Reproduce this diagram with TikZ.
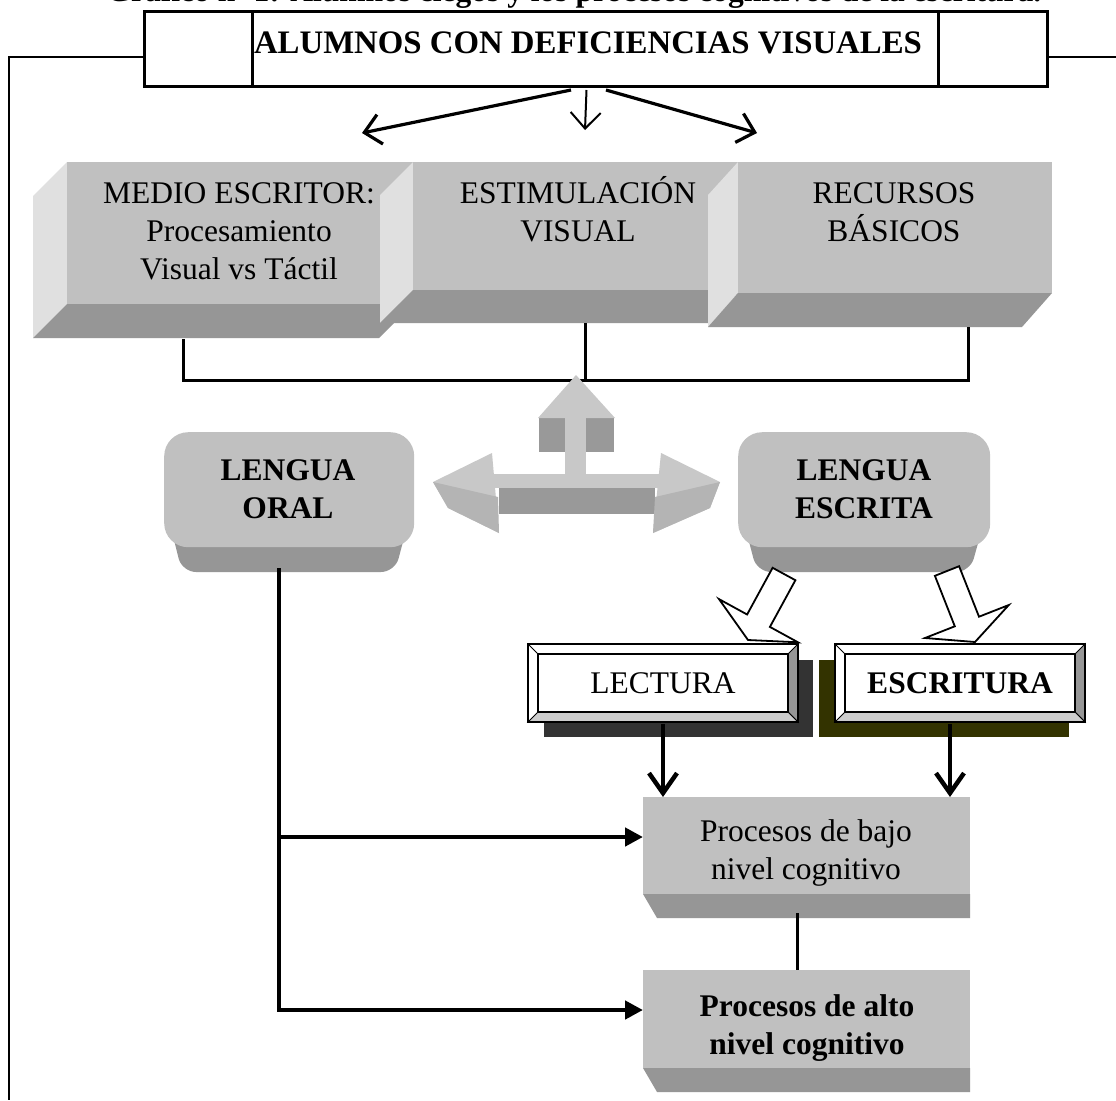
\documentclass[tikz,border=0pt]{standalone}
\usepackage{fontspec}
\setmainfont{Liberation Serif}
\usetikzlibrary{arrows.meta,calc}
\definecolor{facegray}{HTML}{C0C0C0}
\definecolor{sidegray}{HTML}{969696}
\definecolor{panellight}{HTML}{E0E0E0}
\definecolor{bandgray}{HTML}{CCCCCC}
\definecolor{shadowdark}{HTML}{333333}
\definecolor{shadowolive}{HTML}{333300}
\definecolor{arrlight}{HTML}{C8C8C8}
\definecolor{arrmid}{HTML}{B4B4B4}
\definecolor{arrdark}{HTML}{999999}
\begin{document}
\begin{tikzpicture}[x=1pt,y=-1pt,
  lbl/.style={font=\fontsize{31.5}{38}\selectfont, inner sep=0pt, anchor=base},
  blbl/.style={font=\fontsize{31.5}{38}\selectfont\bfseries, inner sep=0pt, anchor=base},
  thinln/.style={line width=1.6pt},
  midln/.style={line width=3pt},
  thickln/.style={line width=4.5pt},
  openhead/.style={-{Straight Barb[length=20pt,width=28pt]}},
  smallhead/.style={-{Straight Barb[length=16pt,width=30pt]}},
  filledhead/.style={-{Triangle[length=18pt,width=18pt]}},
  facebox/.style={fill=facegray, draw=none, inner sep=0pt, anchor=north west},
  blockarrow/.style={draw=black, fill=white, line width=1.8pt, line join=miter},
]
\useasboundingbox (0,0) rectangle (1116,1100);
\fill[white] (0,0) rectangle (1116,1100);

% clipped caption at the very top
\begin{scope}
\clip (0,0) rectangle (1116,12);
\node[blbl] (titulo) at (574,1.5) {Gráfico nº 1: Alumnos ciegos y los procesos cognitivos de la escritura.};
\end{scope}

% title box
\node[draw, line width=3pt, minimum width=903pt, minimum height=75pt, inner sep=0pt, anchor=north west] (alumnos) at (143,10) {};
\draw[midln] (252,10) -- (252,85);
\draw[midln] (938,10) -- (938,85);
\draw[line width=2.5pt] (143,87) -- (1046,87);
\node[blbl, font=\fontsize{32.8}{38}\selectfont\bfseries] (alumnostxt) at (588,53) {ALUMNOS CON DEFICIENCIAS VISUALES};

% outer frame lines
\coordinate (frameTL) at (9,57);
\coordinate (frameBL) at (9,1100);
\coordinate (frameR) at (1116,57);
\draw[thinln] (alumnos.west |- frameTL) -- (frameTL) -- (frameBL);
\draw[thinln] (alumnos.east |- frameR) -- (frameR);

% arrows from title box
\coordinate (tipL) at (362,133);
\coordinate (tipC) at (585,130);
\coordinate (tipR) at (757,133);
\draw[line width=3.2pt, smallhead] ($(alumnos.south)+(-25,2)$) -- (tipL);
\draw[line width=3.2pt, smallhead] ($(alumnos.south)+(10,2)$) -- (tipR);
\draw[line width=2pt, smallhead] ($(alumnos.south)+(-9.5,2)$) -- (tipC);

% ---- three bevelled boxes ----
% box 1
\fill[panellight] (67,162) -- (33,196) -- (33,338) -- (67,304) -- cycle;
\fill[sidegray] (67,304) -- (413,304) -- (379,338) -- (33,338) -- cycle;
\node[facebox, minimum width=346pt, minimum height=142pt] (medio) at (67,162) {};
\node[lbl] (medio1) at (239,203.5) {MEDIO ESCRITOR:};
\node[lbl] (medio2) at (239,241) {Procesamiento};
\node[lbl] (medio3) at (239,279) {Visual vs Táctil};
% box 2
\fill[panellight] (413,162) -- (380,195) -- (380,323) -- (413,290) -- cycle;
\fill[sidegray] (413,290) -- (741,290) -- (708,323) -- (380,323) -- cycle;
\node[facebox, minimum width=328pt, minimum height=128pt] (estim) at (413,162) {};
\node[lbl] (estim1) at (578,203.5) {ESTIMULACIÓN};
\node[lbl] (estim2) at (578,241) {VISUAL};
% box 3
\fill[panellight] (738,162) -- (708,195) -- (708,327) -- (738,293) -- cycle;
\fill[sidegray] (738,293) -- (1052,293) -- (1022,327) -- (708,327) -- cycle;
\node[facebox, minimum width=314pt, minimum height=131pt] (recur) at (738,162) {};
\node[lbl] (recur1) at (894,203.5) {RECURSOS};
\node[lbl] (recur2) at (894,241) {BÁSICOS};

% bracket
\coordinate (medioB) at (183,339);
\coordinate (estimB) at (585,323);
\coordinate (recurB) at (968,327);
\coordinate (junc) at (585,380);
\draw[midln, line join=miter] (medioB) |- (junc) -| (recurB);
\draw[midln] (estimB) -- (junc);

% ---- 3D double arrow with up arrow ----
\fill[arrdark] (499,488) rectangle (655,514);
\fill[arrlight] (492,474) rectangle (663,488);
\fill[arrlight] (433,482) -- (492,453) -- (499,533) -- (448,508) -- cycle;
\fill[arrmid] (433,482) -- (498,497) -- (499,533) -- (448,508) -- cycle;
\fill[arrlight] (720,482) -- (661,453) -- (653,533) -- (710,508) -- cycle;
\fill[arrmid] (720,482) -- (655,497) -- (653,533) -- (710,508) -- cycle;
\fill[arrdark] (539,418) rectangle (565,452);
\fill[arrdark] (586,418) rectangle (614,452);
\fill[arrlight] (565,418) rectangle (586,474);
\fill[arrlight] (576,375) -- (538,418) -- (615,418) -- cycle;

% ---- lengua oral / escrita ----
\fill[sidegray, rounded corners=14pt] (164,500) -- (414,500) -- (395,572) -- (182,572) -- cycle;
\node[facebox, rounded corners=24pt, minimum width=250pt, minimum height=115pt] (oral) at (164,432) {};
\node[blbl] (oral1) at (288,480) {LENGUA};
\node[blbl] (oral2) at (288,518) {ORAL};

\fill[sidegray, rounded corners=14pt] (738,500) -- (990,500) -- (970,572) -- (757,572) -- cycle;
\node[facebox, rounded corners=24pt, minimum width=252pt, minimum height=115pt] (escrita) at (738,432) {};
\node[blbl] (escrita1) at (864,480) {LENGUA};
\node[blbl] (escrita2) at (864,518) {ESCRITA};

% white block arrows
\filldraw[blockarrow] (772.6,567.8) -- (795.4,580.2) -- (769.9,626.9) -- (798,642.3) -- (748,640) -- (719,599.1) -- (747.1,614.5) -- cycle;
\filldraw[blockarrow] (934.9,575.8) -- (959.1,566.2) -- (979,616.7) -- (1008.8,605) -- (975,642) -- (925,638) -- (954.8,626.3) -- cycle;

% ---- LECTURA ----
\fill[shadowdark] (544,660) rectangle (813,737);
\filldraw[fill=white, line width=1.8pt] (528,644) rectangle (798,722);
\filldraw[fill=sidegray, line width=1pt] (798,644) -- (788,654) -- (788,712) -- (798,722) -- cycle;
\filldraw[fill=bandgray, line width=1pt] (528,722) -- (538,712) -- (788,712) -- (798,722) -- cycle;
\draw[line width=1pt] (528,644) -- (538,654);
\draw[line width=1.8pt] (528,644) rectangle (798,722);
\node[draw, line width=2pt, fill=white, inner sep=0pt, minimum width=250pt, minimum height=58pt, font=\fontsize{31.5}{38}\selectfont] (lectura) at (663,683) {LECTURA};

% ---- ESCRITURA ----
\fill[shadowolive] (819,660) rectangle (1069,737);
\filldraw[fill=white, line width=1.8pt] (835,644) rectangle (1085,722);
\filldraw[fill=sidegray, line width=1pt] (1085,644) -- (1075,654) -- (1075,712) -- (1085,722) -- cycle;
\filldraw[fill=bandgray, line width=1pt] (835,722) -- (845,712) -- (1075,712) -- (1085,722) -- cycle;
\draw[line width=1pt] (835,644) -- (845,654);
\draw[line width=1.8pt] (835,644) rectangle (1085,722);
\node[draw, line width=2pt, fill=white, inner sep=0pt, minimum width=230pt, minimum height=58pt, font=\fontsize{31.5}{38}\selectfont\bfseries] (escritura) at (960,683) {ESCRITURA};

% ---- procesos boxes ----
\fill[sidegray] (643,894) -- (970,894) -- (970,918) -- (657,918) -- cycle;
\node[facebox, minimum width=327pt, minimum height=97pt] (bajo) at (643,797) {};
\node[lbl] (bajo1) at (806,841) {Procesos de bajo};
\node[lbl] (bajo2) at (806,879) {nivel cognitivo};

\fill[sidegray] (643,1068) -- (970,1068) -- (970,1092) -- (657,1092) -- cycle;
\node[facebox, minimum width=327pt, minimum height=98pt] (alto) at (643,970) {};
\node[blbl] (alto1) at (807,1016) {Procesos de alto};
\node[blbl] (alto2) at (807,1054) {nivel cognitivo};

% arrows into procesos bajo
\draw[thickln, openhead] ($(lectura.south)+(0,11)$) -- (lectura.south |- bajo.north);
\draw[thickln, openhead] ($(escritura.south)+(-10,11)$) -- ($(escritura.south |- bajo.north)+(-10,0)$);

% bajo -> alto
\draw[midln] ($(bajo.south)+(-9.5,19)$) -- ($(alto.north)+(-9.5,0)$);

% lengua oral trunk
\coordinate (trunkTop) at (279,568);
\coordinate (branch) at (279,837);
\coordinate (trunkBot) at (279,1010);
\draw[thickln, line join=miter, filledhead] (trunkTop) -- (trunkBot) -- (trunkBot -| alto.west);
\draw[thickln, filledhead] (branch) -- (branch -| bajo.west);
\end{tikzpicture}
\end{document}
